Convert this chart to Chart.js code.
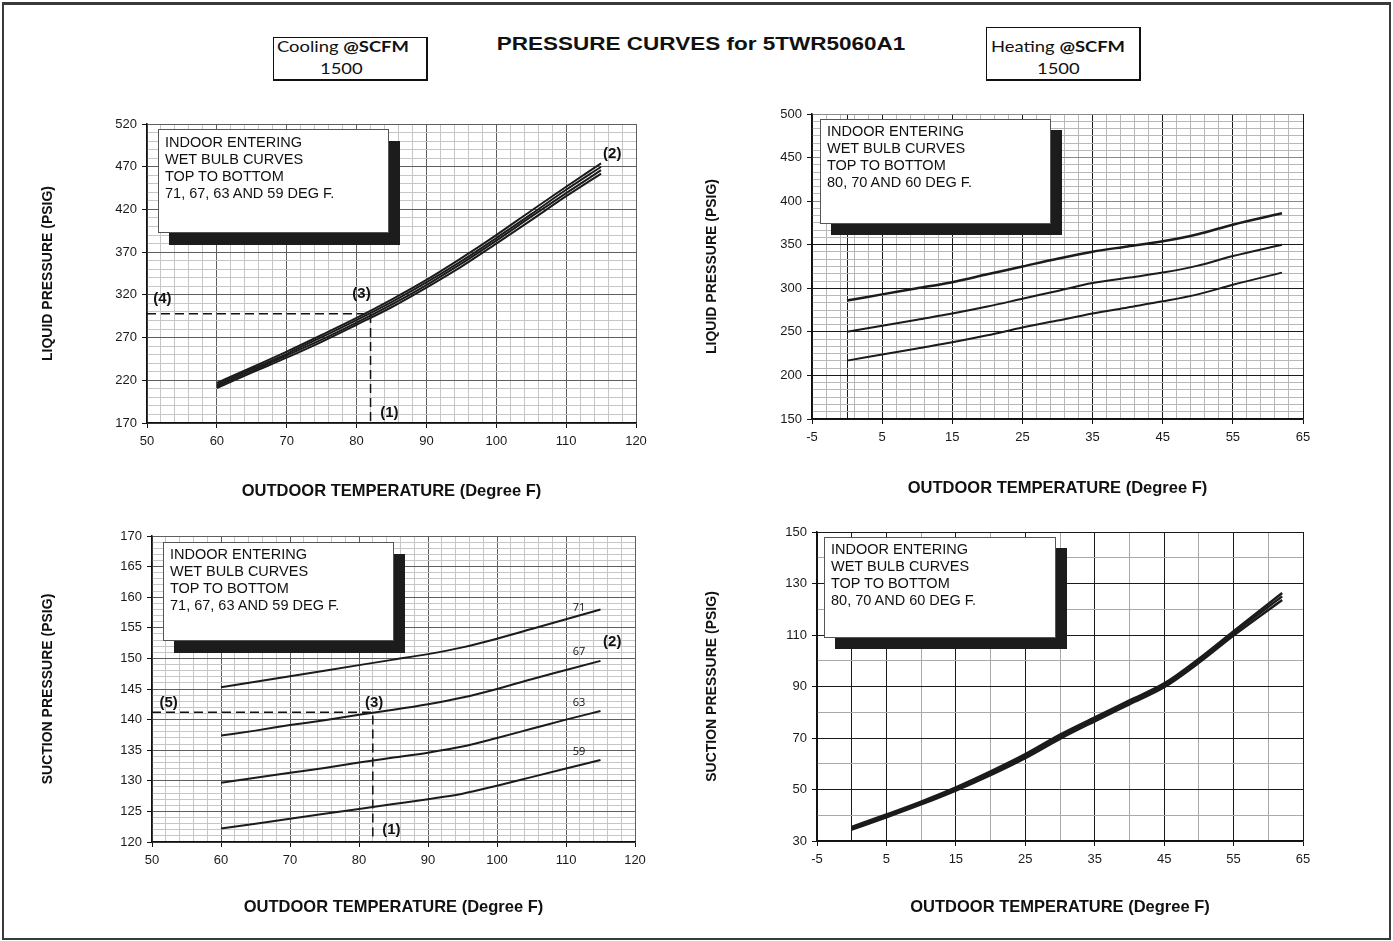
<!DOCTYPE html>
<html>
<head>
<meta charset="utf-8">
<title>Pressure curves 5TWR5060A1</title>
<script src="https://cdn.jsdelivr.net/npm/chart.js@4.4.1/dist/chart.umd.min.js"></script>
<style>
  html, body { margin: 0; padding: 0; background: #fff; }
  #page { position: relative; width: 1393px; height: 941px; overflow: hidden; font-family: "Liberation Sans", Arial, sans-serif; color: #111; }
  #frame { position: absolute; left: 2px; top: 2px; width: 1385px; height: 933px; border: 2px solid #3a3a3a; border-top-width: 3px; }
  #title { position: absolute; left: 0; width: 1402px; top: 34px; text-align: center; font-weight: bold; font-size: 18px; transform: scaleX(1.25); transform-origin: 701px 0; }
  .cfm { position: absolute; box-sizing: border-box; border: 1.5px solid #111; border-right-width: 2px; border-bottom-width: 2.5px; background: #fff; }
  .cfm div { position: absolute; left: 0; font-family: Lato, "Open Sans", sans-serif; font-size: 16px; line-height: 20px; white-space: nowrap; transform: scaleX(1.15); transform-origin: 0 0; }
  .note { position: absolute; z-index: 2; box-sizing: border-box; background: #fff; border: 1px solid #555; box-shadow: 11px 12px 0 #1c1c1c; font-size: 14.5px; line-height: 17px; padding: 3px 0 0 6px; white-space: nowrap; }
  canvas { position: absolute; }
</style>
</head>
<body>
<div id="page">
  <div id="frame"></div>
  <div id="title">PRESSURE CURVES for 5TWR5060A1</div>
  <div class="cfm" style="left:273px; top:37px; width:155px; height:44px;">
    <div style="left:3px; top:-2px;">Cooling <b>@SCFM</b></div>
    <div style="left:46px; top:20px;">1500</div>
  </div>
  <div class="cfm" style="left:986px; top:27px; width:155px; height:54px;">
    <div style="left:4px; top:8px;">Heating <b>@SCFM</b></div>
    <div style="left:50px; top:30px;">1500</div>
  </div>

  <canvas id="coolLiq" width="634" height="409" style="left:27px; top:104px;"></canvas>
  <canvas id="heatLiq" width="636" height="415" style="left:692px; top:94px;"></canvas>
  <canvas id="coolSuc" width="628" height="416" style="left:32px; top:516px;"></canvas>
  <canvas id="heatSuc" width="631" height="419" style="left:697px; top:512px;"></canvas>

  <div class="note" style="left:158px; top:129px; width:231px; height:104px; padding-top:4px;">INDOOR ENTERING<br>WET BULB CURVES<br>TOP TO BOTTOM<br>71, 67, 63 AND 59 DEG F.</div>
  <div class="note" style="left:820px; top:119px; width:231px; height:105px; box-shadow: 11px 11px 0 #1c1c1c;">INDOOR ENTERING<br>WET BULB CURVES<br>TOP TO BOTTOM<br>80, 70 AND 60 DEG F.</div>
  <div class="note" style="left:163px; top:542px; width:231px; height:99px;">INDOOR ENTERING<br>WET BULB CURVES<br>TOP TO BOTTOM<br>71, 67, 63 AND 59 DEG F.</div>
  <div class="note" style="left:824px; top:537px; width:232px; height:101px; box-shadow: 11px 11px 0 #1c1c1c;">INDOOR ENTERING<br>WET BULB CURVES<br>TOP TO BOTTOM<br>80, 70 AND 60 DEG F.</div>
</div>

<script>
// ---- cooling (indoor wet bulb 71 / 67 / 63 / 59 F) ----
const coolTemps = [60, 65, 70, 75, 80, 85, 90, 95, 100, 105, 110, 115];
const coolLiq71 = [217, 235, 253.5, 273, 293, 314.5, 337.5, 363, 390, 418.5, 446.5, 474];
const coolLiq67 = [215, 233, 251, 270.5, 290.5, 311.5, 334.5, 359.5, 386.5, 414.5, 443, 470];
const coolLiq63 = [213, 231, 249, 267.5, 287.5, 308.5, 331.5, 356.5, 383.5, 411.5, 439, 466];
const coolLiq59 = [211, 229, 246.5, 265, 285, 305.5, 328.5, 353, 380, 407.5, 435.5, 462];

const coolSuc71 = [145.3, 146.2, 147.1, 148, 148.9, 149.8, 150.7, 151.8, 153.2, 154.8, 156.4, 158];
const coolSuc67 = [137.4, 138.2, 139.1, 139.9, 140.8, 141.6, 142.5, 143.6, 145, 146.6, 148.1, 149.6];
const coolSuc63 = [129.7, 130.5, 131.3, 132.1, 133, 133.8, 134.6, 135.6, 137, 138.5, 140, 141.4];
const coolSuc59 = [122.2, 123, 123.8, 124.6, 125.4, 126.2, 127, 127.9, 129.2, 130.6, 132, 133.4];

// worked example: 82 F outdoor -> (3)
const coolLiqExample = [{ x: 50, y: 298 }, { x: 82, y: 298 }, { x: 82, y: 170 }];
const coolSucExample = [{ x: 50, y: 141.2 }, { x: 82, y: 141.2 }, { x: 82, y: 120 }];

// ---- heating (indoor 80 / 70 / 60 F) ----
const heatTemps = [0, 5, 10, 15, 20, 25, 30, 35, 40, 45, 50, 55, 62];
const heatLiq80 = [286, 293, 300, 307, 316, 325, 334, 342, 348, 354, 362, 373, 386];
const heatLiq70 = [250, 257, 264, 271, 279, 288, 297, 306, 312, 318, 326, 337, 350];
const heatLiq60 = [217, 224, 231, 238, 246, 255, 263, 271, 278, 285, 293, 304, 318];

const heatSuc80 = [35.5, 40.3, 45.3, 50.8, 57, 63.7, 71.3, 78, 84.6, 91.2, 100.8, 111.5, 126.3];
const heatSuc70 = [35, 39.8, 44.8, 50.2, 56.3, 63, 70.5, 77.3, 83.9, 90.5, 100, 110.7, 125];
const heatSuc60 = [34.4, 39.2, 44.2, 49.6, 55.6, 62.2, 69.7, 76.5, 83.1, 89.7, 99.2, 109.8, 123.6];

// tick labels
const coolXLabels = [50, 60, 70, 80, 90, 100, 110, 120];
const heatXLabels = [-5, 5, 15, 25, 35, 45, 55, 65];
const coolLiqLabels = [170, 220, 270, 320, 370, 420, 470, 520];
const heatLiqLabels = [150, 200, 250, 300, 350, 400, 450, 500];
const coolSucLabels = [120, 125, 130, 135, 140, 145, 150, 155, 160, 165, 170];
const heatSucLabels = [30, 50, 70, 90, 110, 130, 150];

Chart.defaults.font.family = '"Liberation Sans", Arial, sans-serif';
Chart.defaults.color = '#1a1a1a';

function steps(min, max, step) {
  const out = [];
  const n = Math.round((max - min) / step);
  for (let i = 0; i <= n; i++) out.push(+(min + i * step).toFixed(6));
  return out;
}
const near = (list, v) => list.some(l => Math.abs(l - v) < 1e-6);
const series = (xs, ys) => xs.map((x, i) => ({ x: x, y: ys[i] }));

function curve(xs, ys, w) {
  return {
    data: series(xs, ys),
    borderColor: '#1b1b1b',
    borderWidth: w || 2,
    pointRadius: 0,
    cubicInterpolationMode: 'monotone',
    fill: false
  };
}
function dashed(points) {
  return { data: points, borderColor: '#111', borderWidth: 1.5, borderDash: [9, 5], pointRadius: 0, tension: 0, fill: false };
}

// a is: min, max, grid, labels, dark, darkColor, labelColor, minorColor, title, titlePad, horizontal
function axis(a) {
  return {
    type: 'linear',
    min: a.min,
    max: a.max,
    afterBuildTicks: s => { s.ticks = a.grid.map(v => ({ value: v })); },
    afterFit: s => {
      if (a.horizontal) { s.height = 90; s.paddingLeft = 0; s.paddingRight = 0; }
      else { s.width = 120; s.paddingTop = 0; s.paddingBottom = 0; }
    },
    ticks: {
      autoSkip: false,
      maxRotation: 0,
      padding: a.horizontal ? 6 : 5,
      font: { size: 13 },
      color: '#1a1a1a',
      callback: v => near(a.labels, v) ? String(v) : ''
    },
    grid: {
      color: c => near(a.dark || [], c.tick.value) ? a.darkColor
        : near(a.labels, c.tick.value) ? a.labelColor : a.minorColor,
      lineWidth: 1,
      tickLength: 5,
      tickWidth: 1,
      tickColor: c => near(a.labels, c.tick.value) ? '#111' : 'rgba(0,0,0,0)'
    },
    border: { color: '#111', width: 1.5 },
    title: {
      display: true,
      text: a.title,
      color: '#111',
      font: { size: a.horizontal ? 16.5 : 14, weight: 'bold' },
      padding: a.titlePad
    }
  };
}

const marksPlugin = {
  id: 'marks',
  afterDatasetsDraw(chart, args, opts) {
    const ctx = chart.ctx, xs = chart.scales.x, ys = chart.scales.y;
    (opts.items || []).forEach(m => {
      ctx.save();
      ctx.font = m.font || 'bold 15px "Liberation Sans", Arial, sans-serif';
      ctx.fillStyle = '#111';
      ctx.textAlign = 'center';
      ctx.textBaseline = 'middle';
      ctx.fillText(m.text, xs.getPixelForValue(m.x), ys.getPixelForValue(m.y));
      ctx.restore();
    });
  }
};

function makeChart(id, datasets, xAxis, yAxis, items) {
  new Chart(document.getElementById(id), {
    type: 'line',
    data: { datasets: datasets },
    options: {
      responsive: false,
      animation: false,
      layout: { autoPadding: false, padding: { top: 20, right: 25, left: 0, bottom: 0 } },
      plugins: {
        legend: { display: false },
        tooltip: { enabled: false },
        marks: { items: items }
      },
      scales: { x: xAxis, y: yAxis }
    },
    plugins: [marksPlugin]
  });
}

const xTitle = 'OUTDOOR TEMPERATURE (Degree F)';
const small = '11px "Open Sans", sans-serif';

// top left: cooling liquid pressure
makeChart('coolLiq',
  [curve(coolTemps, coolLiq71), curve(coolTemps, coolLiq67), curve(coolTemps, coolLiq63), curve(coolTemps, coolLiq59), dashed(coolLiqExample)],
  axis({ horizontal: true, min: 50, max: 120, grid: steps(50, 120, 2), labels: coolXLabels,
    labelColor: '#5e5e5e', minorColor: '#c6c6c6', title: xTitle, titlePad: { bottom: 12.1 } }),
  axis({ min: 170, max: 520, grid: steps(170, 520, 10), labels: coolLiqLabels,
    labelColor: '#5e5e5e', minorColor: '#c6c6c6', title: 'LIQUID PRESSURE (PSIG)', titlePad: { top: 12.6 } }),
  [{ text: '(4)', x: 52.2, y: 315 }, { text: '(3)', x: 80.7, y: 321 }, { text: '(1)', x: 84.7, y: 182 }, { text: '(2)', x: 116.6, y: 485 }]
);

// top right: heating liquid pressure
makeChart('heatLiq',
  [curve(heatTemps, heatLiq80, 2.5), curve(heatTemps, heatLiq70), curve(heatTemps, heatLiq60)],
  axis({ horizontal: true, min: -5, max: 65, grid: [0].concat(steps(-5, 65, 2)).sort((p, q) => p - q), labels: heatXLabels,
    dark: heatXLabels.concat([0]), darkColor: '#1a1a1a', labelColor: '#1a1a1a', minorColor: '#b8b8b8', title: xTitle, titlePad: { bottom: 11.1 } }),
  axis({ min: 150, max: 500, grid: steps(150, 500, 50 / 6), labels: heatLiqLabels,
    dark: [150, 200, 250, 300, 350], darkColor: '#1a1a1a', labelColor: '#8a8a8a', minorColor: '#b8b8b8', title: 'LIQUID PRESSURE (PSIG)', titlePad: { top: 11.6 } }),
  []
);

// bottom left: cooling suction pressure
makeChart('coolSuc',
  [curve(coolTemps, coolSuc71), curve(coolTemps, coolSuc67), curve(coolTemps, coolSuc63), curve(coolTemps, coolSuc59), dashed(coolSucExample)],
  axis({ horizontal: true, min: 50, max: 120, grid: steps(50, 120, 2), labels: coolXLabels,
    labelColor: '#5e5e5e', minorColor: '#c6c6c6', title: xTitle, titlePad: { bottom: 15.1 } }),
  axis({ min: 120, max: 170, grid: steps(120, 170, 1), labels: coolSucLabels,
    labelColor: '#5e5e5e', minorColor: '#c6c6c6', title: 'SUCTION PRESSURE (PSIG)', titlePad: { top: 7.6 } }),
  [{ text: '(5)', x: 52.4, y: 142.7 }, { text: '(3)', x: 82.2, y: 142.7 }, { text: '(1)', x: 84.7, y: 122 }, { text: '(2)', x: 116.7, y: 152.7 },
   { text: '71', x: 111.9, y: 158.3, font: small }, { text: '67', x: 111.9, y: 151, font: small },
   { text: '63', x: 111.9, y: 142.7, font: small }, { text: '59', x: 111.9, y: 134.8, font: small }]
);

// bottom right: heating suction pressure
makeChart('heatSuc',
  [curve(heatTemps, heatSuc80, 2.5), curve(heatTemps, heatSuc70, 2.5), curve(heatTemps, heatSuc60, 2.5)],
  axis({ horizontal: true, min: -5, max: 65, grid: steps(-5, 65, 5), labels: heatXLabels,
    dark: heatXLabels.concat([0]), darkColor: '#1a1a1a', labelColor: '#1a1a1a', minorColor: '#a9a9a9', title: xTitle, titlePad: { bottom: 14.1 } }),
  axis({ min: 30, max: 150, grid: steps(30, 150, 10), labels: heatSucLabels,
    dark: heatSucLabels, darkColor: '#1a1a1a', labelColor: '#1a1a1a', minorColor: '#a9a9a9', title: 'SUCTION PRESSURE (PSIG)', titlePad: { top: 6.6 } }),
  []
);
</script>
</body>
</html>
